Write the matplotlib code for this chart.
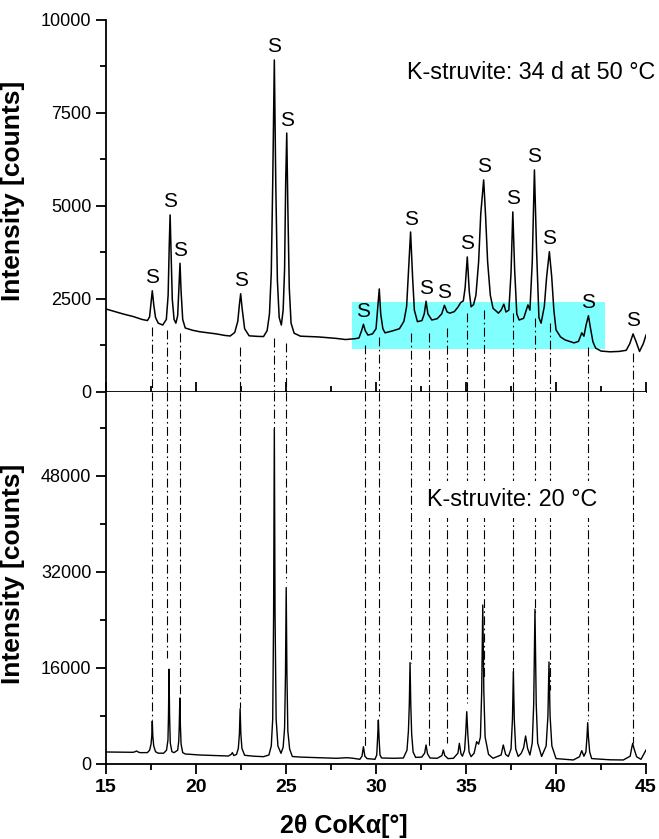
"""XRD patterns of K-struvite: aged 34 d at 50 degC (top) vs. 20 degC (bottom)."""
import matplotlib
matplotlib.use("Agg")
import matplotlib.pyplot as plt
from matplotlib.patches import Rectangle
from matplotlib.ticker import MultipleLocator
import numpy as np

plt.rcParams["font.family"] = ["Liberation Sans", "DejaVu Sans"]

# --- 34 d at 50 °C pattern (2theta in degrees, counts) ---
top_2theta = [
    15.0, 15.5, 16.0, 16.5, 17.0, 17.3,
    17.42, 17.5, 17.57, 17.65, 17.75, 17.9, 18.15,
    18.35, 18.45, 18.51, 18.56, 18.61, 18.68, 18.78, 18.88,
    18.98, 19.05, 19.11, 19.17, 19.26, 19.4, 19.8,
    20.2, 20.7, 21.15, 21.6, 21.9, 22.15, 22.32, 22.41, 22.48, 22.56, 22.7, 22.95,
    23.4, 23.75, 23.95, 24.08, 24.18, 24.26, 24.35, 24.43, 24.52, 24.62, 24.74,
    24.84, 24.92, 24.98, 25.04, 25.1, 25.18, 25.28, 25.45,
    25.8, 26.3, 26.8, 27.3, 27.8, 28.3, 28.8, 29.05,
    29.2, 29.3, 29.4, 29.55, 29.8, 30.0, 30.1, 30.18, 30.26, 30.38, 30.5,
    30.9, 31.3, 31.55, 31.7, 31.8, 31.92, 32.03, 32.13, 32.3,
    32.55, 32.68, 32.78, 32.88, 33.1, 33.4, 33.65, 33.8, 33.95, 34.1,
    34.35, 34.55, 34.7, 34.85, 34.95, 35.07, 35.18, 35.28, 35.42,
    35.55, 35.7, 35.82, 35.98, 36.08, 36.2, 36.35, 36.5, 36.8,
    36.95, 37.1, 37.22, 37.38, 37.5, 37.6, 37.7, 37.82, 37.95,
    38.2, 38.35, 38.44, 38.55, 38.68, 38.8, 38.92, 39.05, 39.17,
    39.35, 39.48, 39.63, 39.76, 39.88, 40.0, 40.25, 40.5, 41.0,
    41.25, 41.43, 41.55, 41.67, 41.8, 41.92, 42.05, 42.2, 42.5,
    43.0, 43.5, 43.9, 44.1, 44.28, 44.45, 44.64, 44.85, 45.0,
]
top_counts = [
    2230, 2160, 2090, 2030, 1950, 1920,
    2020, 2400, 2720, 2350, 2000, 1850, 1800,
    1950, 2600, 3900, 4760, 3800, 2500, 1950, 1850,
    2050, 2800, 3460, 2700, 1950, 1720, 1660,
    1620, 1590, 1560, 1520, 1505, 1600, 1900, 2350, 2640, 2250, 1700, 1510,
    1495, 1490, 1650, 2100, 3200, 5600, 8925, 5600, 3000, 2000, 1800,
    2200, 3300, 5600, 6960, 5000, 2800, 1850, 1580,
    1500, 1490, 1480, 1460, 1440, 1410, 1430, 1450,
    1650, 1820, 1650, 1530, 1560, 1700, 2300, 2770, 2100, 1700, 1590,
    1640, 1700, 1900, 2300, 3200, 4300, 3100, 2200, 1890,
    1920, 2100, 2440, 2100, 1935, 1970, 2100, 2330, 2150, 2120,
    2160, 2280, 2400, 2450, 2800, 3630, 2700, 2290, 2350,
    2600, 3500, 4800, 5700, 4800, 3500, 2600, 2250, 2120,
    2200, 2360, 2150, 2200, 3200, 4840, 3300, 2100, 1935,
    1980, 2200, 2340, 2200, 3500, 5970, 3800, 2000, 1850,
    2300, 3100, 3770, 3100, 2200, 1670, 1480, 1400, 1320,
    1360, 1590, 1500, 1800, 2050, 1700, 1350, 1180, 1100,
    1080, 1090, 1120, 1300, 1560, 1350, 1090, 1300, 1530,
]

# --- 20 °C pattern ---
bot_2theta = [
    15.0, 15.8, 16.5, 16.62, 16.7, 16.78, 16.9, 17.3,
    17.42, 17.5, 17.54, 17.57, 17.6, 17.65, 17.75,
    17.9, 18.2, 18.36,
    18.44, 18.47, 18.5, 18.53, 18.57, 18.66,
    18.78, 18.98, 19.04, 19.07, 19.1, 19.13, 19.17, 19.26, 19.4,
    20.2, 21.0, 21.8, 21.95, 22.02, 22.1, 22.25,
    22.35, 22.41, 22.45, 22.49, 22.55, 22.7, 23.2, 23.75, 24.05,
    24.18, 24.26, 24.31, 24.35, 24.39, 24.45, 24.55, 24.72,
    24.84, 24.92, 24.97, 25.01, 25.05, 25.1, 25.2, 25.35,
    25.8, 26.7, 27.8, 28.4, 28.74, 29.1,
    29.22, 29.3, 29.38, 29.5, 29.94,
    30.04, 30.09, 30.13, 30.17, 30.22, 30.31,
    31.0, 31.52, 31.72, 31.8, 31.85, 31.89, 31.93, 31.98, 32.06, 32.2,
    32.54, 32.7, 32.78, 32.86, 33.0,
    33.4, 33.66, 33.74, 33.82, 34.0, 34.3,
    34.55, 34.63, 34.72, 34.8,
    34.92, 34.98, 35.04, 35.1, 35.17, 35.28,
    35.45, 35.59, 35.7,
    35.8, 35.87, 35.93, 35.99, 36.06, 36.15, 36.25, 36.5,
    36.95, 37.07, 37.2, 37.35,
    37.5, 37.58, 37.63, 37.68, 37.76, 37.9,
    38.07, 38.2, 38.31, 38.42, 38.55,
    38.68, 38.76, 38.83, 38.9, 38.98, 39.2,
    39.45, 39.55, 39.61, 39.67, 39.77, 40.0, 40.96,
    41.3, 41.43, 41.55,
    41.66, 41.72, 41.76, 41.8, 41.87, 41.98,
    43.0, 43.74, 44.12, 44.2, 44.26, 44.33, 44.48, 44.72, 45.0,
]
bot_counts = [
    2000, 1980, 1950, 2050, 2170, 2000, 1890, 1900,
    2300, 3300, 4600, 7150, 4600, 3000, 2050,
    1800, 1800, 2300,
    4000, 8000, 15800, 8000, 3500, 2050,
    1890, 2300, 3800, 6500, 11000, 6500, 3300, 1900, 1670,
    1500, 1420, 1330, 1600, 1890, 1400, 1600,
    2600, 5000, 9200, 5000, 2600, 1450, 1300, 1220, 1500,
    3000, 7500, 25000, 55900, 25000, 7500, 3000, 1780,
    2800, 6000, 15000, 29400, 15000, 5500, 2500, 1250,
    1150, 1060, 950, 1050, 950, 780,
    1300, 2890, 1300, 900, 780,
    1500, 4500, 7330, 4200, 1500, 1000,
    950, 1000, 2300, 5500, 10000, 16900, 10000, 5000, 2000, 1100,
    1150, 1800, 3170, 1700, 1000,
    950, 1400, 2330, 1400, 900, 950,
    1800, 3440, 1700, 1300,
    2300, 5000, 8720, 5000, 2000, 1220,
    1800, 3720, 3300,
    4500, 12000, 26500, 12000, 4500, 3170, 1600, 950,
    1500, 3170, 1600, 1250,
    2500, 7500, 15400, 7500, 2500, 1250,
    1800, 2700, 4670, 2600, 1500,
    3500, 10000, 25800, 10000, 3500, 1250,
    3000, 8000, 17000, 8000, 3000, 900, 670,
    1200, 2220, 1300,
    2000, 4500, 6890, 4500, 2000, 900,
    700, 670, 1300, 2600, 3440, 2600, 1200, 780, 2330,
]

# struvite reflections marked with "S" in the aged pattern
s_2theta = [17.57, 18.56, 19.11, 22.48, 24.35, 25.04, 29.3, 31.92, 32.78,
            33.8, 35.07, 35.98, 37.6, 38.8, 39.63, 41.8, 44.28]

# guide lines linking reflections of both patterns
guide_2theta = [17.54, 18.37, 19.13, 22.43, 24.33, 25.0, 29.39, 30.15, 31.94,
                32.96, 33.93, 35.08, 35.98, 37.63, 38.85, 39.65, 41.76, 44.27]
guide_top = [1750, 1670, 1580, 1210, 1450, 1310, 1260, 1490, 1580,
             1580, 1710, 2120, 2200, 2110, 1980, 1850, 1220, 1040]
guide_bot = [7300, 17700, 11200, 9300, 56000, 30300, 2900, 7800, 16800,
             2900, 3500, 10100, 14500, 15200, 25000, 12300, 7300, 3500]

# highlighted region in the aged pattern
band_2theta = (28.65, 42.72)
band_counts = (1150, 2410)

fig = plt.figure(figsize=(6.59, 8.39), dpi=100)
ax_top = fig.add_axes([0.1609, 0.5328, 0.8194, 0.4434])
ax_bot = fig.add_axes([0.1609, 0.0894, 0.8194, 0.4434])

dash_dot = (0, (8, 3, 1.5, 3))

for ax in (ax_top, ax_bot):
    ax.set_xlim(15, 45)
    for side in ("top", "right"):
        ax.spines[side].set_visible(False)
    for side in ("left", "bottom"):
        ax.spines[side].set_linewidth(1.3)
    ax.xaxis.set_major_locator(MultipleLocator(5))
    ax.xaxis.set_minor_locator(MultipleLocator(2.5))
    ax.tick_params(which="major", length=7, width=1.3)
    ax.tick_params(which="minor", length=4, width=1.3)
    ax.tick_params(axis="y", which="both", direction="out", labelsize=13)
    ax.set_ylabel("Intensity [counts]", fontsize=19, fontweight="bold")

# top panel
ax_top.set_ylim(0, 10000)
ax_top.yaxis.set_major_locator(MultipleLocator(2500))
ax_top.yaxis.set_minor_locator(MultipleLocator(1250))
ax_top.tick_params(axis="x", which="both", direction="in", labelbottom=False)
ax_top.yaxis.set_label_coords(-0.15, 0.54)

ax_top.add_patch(Rectangle((band_2theta[0], band_counts[0]),
                           band_2theta[1] - band_2theta[0],
                           band_counts[1] - band_counts[0],
                           facecolor="#80ffff", edgecolor="none", zorder=0))
ax_top.plot(top_2theta, top_counts, color="black", lw=1.1, zorder=3)

for x in s_2theta:
    y = np.interp(x, top_2theta, top_counts)
    ax_top.annotate("S", (x, y), xytext=(0, 2.5), textcoords="offset points",
                    ha="center", va="bottom", fontsize=15)

ax_top.text(31.72, 8600, "K-struvite: 34 d at 50 °C", fontsize=16.8,
            ha="left", va="center")

# bottom panel
ax_bot.set_ylim(0, 62000)
ax_bot.yaxis.set_major_locator(MultipleLocator(16000))
ax_bot.yaxis.set_minor_locator(MultipleLocator(8000))
ax_bot.tick_params(axis="x", which="both", direction="out", labelsize=14, pad=4)
for lbl in ax_bot.get_xticklabels():
    lbl.set_fontweight("bold")
ax_bot.yaxis.set_label_coords(-0.15, 0.51)
ax_bot.set_xlabel("2θ CoKα[°]", fontsize=18, fontweight="bold")
ax_bot.xaxis.set_label_coords(0.44, -0.135)

ax_bot.plot(bot_2theta, bot_counts, color="black", lw=1.0, zorder=3)
ax_bot.text(32.83, 44000, "K-struvite: 20 °C", fontsize=16.8, ha="left",
            va="center", zorder=5,
            bbox=dict(boxstyle="square,pad=0.3", fc="white", ec="none"))

for x, y_top, y_bot in zip(guide_2theta, guide_top, guide_bot):
    ax_top.plot([x, x], [y_top, 0], color="black", lw=0.8, ls=dash_dot,
                zorder=1, clip_on=False)
    ax_bot.plot([x, x], [62000, y_bot], color="black", lw=0.8, ls=dash_dot,
                zorder=1, clip_on=False)

fig.savefig("out.png", dpi=100)
